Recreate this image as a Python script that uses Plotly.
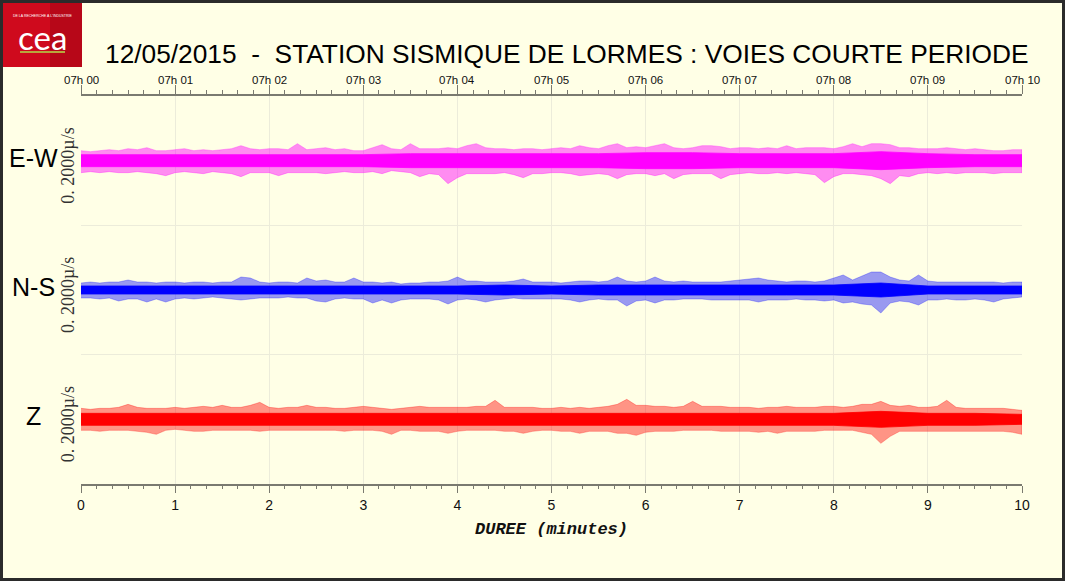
import numpy as np
import plotly.graph_objects as go

# ---------------- data ----------------
# envelope sampling grid, minutes after 07h00
minutes = [round(i * 0.1, 1) for i in range(101)]
core_minutes = [round(i * 0.5, 1) for i in range(21)]

channels = ["E-W", "N-S", "Z"]
colors = ["#ff00ff", "#0000ff", "#ff0000"]
light_colors = ["rgba(255,0,255,0.45)", "rgba(0,0,255,0.40)", "rgba(255,0,0,0.42)"]

# peak envelopes (display px above / below the trace baseline)
ew_upper = [10, 9, 10, 11, 10, 12, 11, 13, 10, 10,
            11, 12, 10, 11, 10, 11, 12, 15, 12, 11,
            12, 12, 11, 17, 11, 12, 13, 11, 12, 10,
            10, 13, 16, 12, 11, 17, 12, 12, 12, 13,
            12, 15, 17, 13, 12, 12, 11, 12, 12, 11,
            12, 13, 12, 15, 13, 12, 15, 17, 13, 14,
            13, 15, 17, 13, 12, 13, 15, 15, 14, 12,
            13, 13, 12, 13, 12, 15, 12, 13, 13, 13,
            12, 14, 17, 14, 17, 17, 16, 13, 13, 12,
            12, 12, 13, 12, 11, 12, 11, 10, 10, 11, 11]
ew_lower = [12, 11, 12, 11, 12, 12, 11, 12, 13, 15,
            12, 11, 12, 13, 11, 12, 13, 16, 12, 12,
            12, 15, 12, 12, 12, 12, 13, 12, 11, 12,
            12, 11, 13, 10, 11, 12, 16, 13, 14, 23,
            17, 13, 13, 13, 13, 12, 14, 17, 13, 13,
            12, 12, 13, 15, 14, 13, 14, 18, 14, 13,
            13, 15, 13, 18, 14, 13, 13, 13, 18, 14,
            13, 12, 13, 13, 12, 13, 12, 13, 14, 22,
            16, 13, 13, 14, 15, 18, 23, 15, 16, 13,
            12, 13, 12, 13, 12, 12, 12, 13, 12, 12, 12]
ns_upper = [7, 8, 7, 8, 8, 10, 8, 8, 7, 8,
            8, 7, 8, 8, 7, 8, 8, 13, 12, 8,
            7, 8, 8, 7, 12, 9, 10, 8, 8, 12,
            8, 8, 7, 8, 6, 7, 7, 8, 8, 9,
            13, 9, 9, 8, 8, 8, 9, 11, 8, 8,
            8, 7, 8, 9, 9, 8, 9, 13, 9, 8,
            9, 13, 9, 8, 9, 8, 8, 8, 8, 9,
            10, 11, 12, 10, 9, 8, 9, 9, 8, 9,
            12, 15, 10, 14, 18, 18, 13, 10, 9, 15,
            9, 8, 8, 8, 8, 8, 8, 8, 7, 8, 8]
ns_lower = [8, 8, 9, 8, 11, 9, 9, 12, 9, 12,
            9, 8, 9, 8, 7, 8, 9, 10, 9, 8,
            8, 8, 7, 8, 8, 11, 12, 9, 8, 9,
            9, 13, 10, 13, 10, 9, 9, 9, 10, 14,
            10, 9, 10, 12, 10, 9, 8, 9, 9, 9,
            9, 9, 10, 12, 10, 9, 10, 10, 16, 11,
            10, 13, 10, 10, 9, 9, 9, 10, 10, 10,
            10, 10, 12, 10, 10, 10, 9, 10, 10, 11,
            10, 13, 12, 14, 15, 23, 13, 11, 12, 15,
            10, 10, 9, 10, 10, 9, 10, 12, 9, 8, 7]
z_upper = [11, 10, 11, 11, 12, 15, 12, 11, 11, 11,
           12, 11, 12, 13, 12, 14, 12, 12, 14, 17,
           12, 11, 12, 12, 14, 12, 12, 11, 11, 12,
           13, 12, 11, 10, 11, 12, 13, 12, 12, 12,
           12, 12, 13, 13, 19, 12, 12, 12, 12, 11,
           11, 12, 11, 12, 11, 12, 13, 15, 20, 14,
           14, 13, 13, 12, 13, 18, 13, 13, 13, 12,
           12, 12, 11, 12, 12, 13, 12, 12, 12, 13,
           13, 12, 13, 15, 15, 18, 14, 13, 14, 12,
           12, 13, 19, 12, 11, 11, 11, 11, 11, 10, 9]
z_lower = [11, 11, 12, 11, 11, 11, 12, 13, 15, 11,
           10, 11, 12, 12, 11, 11, 11, 11, 11, 12,
           11, 11, 11, 11, 11, 11, 11, 11, 12, 11,
           11, 11, 12, 15, 11, 11, 12, 12, 12, 14,
           12, 11, 11, 11, 11, 12, 12, 14, 12, 11,
           11, 12, 12, 14, 12, 12, 12, 14, 14, 16,
           13, 12, 12, 12, 11, 11, 11, 11, 12, 12,
           12, 12, 13, 12, 14, 12, 12, 12, 12, 11,
           11, 11, 11, 13, 15, 24, 17, 12, 12, 12,
           12, 12, 12, 12, 12, 12, 12, 12, 12, 13, 15]

# dense core half-widths (display px), every 0.5 min
ew_core = [6, 6, 6, 6, 6, 6, 6, 7, 7, 7, 7, 7, 8, 8, 7, 7, 7, 9, 7, 6, 6]
ns_core = [4, 4, 4, 4, 4, 4, 4, 4, 4, 5, 4, 5, 5, 5, 5, 5, 5, 7, 4, 4, 4]
z_core = [6, 6, 6, 6, 6, 6, 6, 6, 6, 6, 6, 6, 6, 6, 6, 6, 6, 8, 6, 6, 5]

x_ticks = list(range(11))
top_tick_labels = ["07h %02d" % m for m in range(11)]
scale_label = "0. 2000µ/s"
title_text = "12/05/2015&nbsp;&nbsp;-&nbsp;&nbsp;STATION SISMIQUE DE LORMES : VOIES COURTE PERIODE"

# ---------------- layout geometry ----------------
W, H = 1065, 581
L, R, T, B = 81, 43, 96, 97
PW, PH = W - L - R, H - T - B
ROW_PX = PH / 3.0
AMP = 1.0 / ROW_PX              # px -> row units
offsets = [2.5, 1.5, 0.5]       # baselines of E-W, N-S, Z rows
BG = "#ffffe6"


def px_x(px):
    return (px - L) / PW


def px_y(py):
    return (H - B - py) / PH


uppers = [ew_upper, ns_upper, z_upper]
lowers = [ew_lower, ns_lower, z_lower]
cores = [ew_core, ns_core, z_core]

fig = go.Figure()
for k in range(3):
    base = offsets[k]
    up = [base + v * AMP for v in uppers[k]]
    lo = [base - v * AMP for v in lowers[k]]
    # light envelope of the peaks
    fig.add_trace(go.Scatter(x=minutes + minutes[::-1], y=up + lo[::-1],
                             fill="toself", fillcolor=light_colors[k],
                             line=dict(width=0.7, color=light_colors[k]),
                             mode="lines", hoverinfo="skip", showlegend=False))
    # dense core
    cu = [base + v * AMP for v in cores[k]]
    cl = [base - v * AMP for v in cores[k]]
    fig.add_trace(go.Scatter(x=core_minutes + core_minutes[::-1], y=cu + cl[::-1],
                             fill="toself", fillcolor=colors[k],
                             line=dict(width=0.8, color=colors[k]),
                             mode="lines", hoverinfo="skip", showlegend=False))

# invisible trace to carry the top time axis
fig.add_trace(go.Scatter(x=[0, 10], y=[0, 0], xaxis="x2", mode="lines",
                         line=dict(width=0), hoverinfo="skip", showlegend=False))

axis_col = "#7a7a70"
grid_col = "#ececda"

fig.update_layout(
    width=W, height=H,
    margin=dict(l=L, r=R, t=T, b=B),
    paper_bgcolor=BG, plot_bgcolor=BG,
    showlegend=False,
    xaxis=dict(range=[0, 10], tickvals=x_ticks, ticktext=[str(v) for v in x_ticks],
               showgrid=True, gridcolor=grid_col, gridwidth=1, zeroline=False,
               showline=True, linecolor=axis_col, linewidth=1.5,
               ticks="outside", ticklen=7, tickcolor=axis_col, tickwidth=1,
               minor=dict(dtick=1 / 6, ticklen=3, tickcolor=axis_col, ticks="outside", showgrid=False),
               tickfont=dict(family="Liberation Sans, Arial", size=14, color="#111"),
               title=dict(text="<b><i>DUREE (minutes)</i></b>",
                          font=dict(family="Liberation Mono, Courier New", size=17, color="#111"),
                          standoff=11)),
    xaxis2=dict(range=[0, 10], overlaying="x", side="top", anchor="y",
                tickvals=x_ticks, showticklabels=False,
                showgrid=False, zeroline=False,
                showline=True, linecolor=axis_col, linewidth=1.5,
                ticks="outside", ticklen=9, tickcolor=axis_col, tickwidth=1,
                minor=dict(dtick=1 / 6, ticklen=4, tickcolor=axis_col, ticks="outside", showgrid=False)),
    yaxis=dict(range=[0, 3], dtick=1, showticklabels=False, showgrid=True,
               gridcolor=grid_col, gridwidth=1, zeroline=False, showline=False, ticks=""),
)

ann = []
# top time labels, placed on the time scale
for v, lab in zip(x_ticks, top_tick_labels):
    ann.append(dict(x=v, xref="x", y=px_y(80.5), yref="paper", text=lab,
                    showarrow=False, xanchor="center", yanchor="middle",
                    font=dict(family="Liberation Sans, Arial", size=11.5, color="#111")))
ann.append(dict(x=px_x(566.5), y=px_y(54), xref="paper", yref="paper", text=title_text,
                showarrow=False, xanchor="center", yanchor="middle",
                font=dict(family="Liberation Sans, Arial", size=26.3, color="#000")))
label_y = [160.7, 290.0, 419.3]
for k in range(3):
    ann.append(dict(x=px_x(33), y=px_y(label_y[k] - 3), xref="paper", yref="paper",
                    text=channels[k], showarrow=False, xanchor="center", yanchor="middle",
                    font=dict(family="Liberation Sans, Arial", size=25, color="#000")))
    ann.append(dict(x=px_x(68), y=px_y(label_y[k] + 5), xref="paper", yref="paper",
                    text=scale_label, textangle=-90, showarrow=False,
                    xanchor="center", yanchor="middle",
                    font=dict(family="Liberation Serif, Times New Roman", size=18, color="#333")))
# logo texts
ann.append(dict(x=px_x(42), y=px_y(37), xref="paper", yref="paper", text="cea",
                showarrow=False, xanchor="center", yanchor="middle",
                font=dict(family="Lato, Noto Sans", size=33, color="#ffffff")))
ann.append(dict(x=px_x(42), y=px_y(16), xref="paper", yref="paper",
                text="DE LA RECHERCHE À L'INDUSTRIE",
                showarrow=False, xanchor="center", yanchor="middle",
                font=dict(family="Liberation Sans, Arial", size=3.5, color="#ffffff")))
fig.update_layout(annotations=ann)

shapes = []
# logo block
shapes.append(dict(type="rect", xref="paper", yref="paper",
                   x0=px_x(3), x1=px_x(82), y0=px_y(67), y1=px_y(3),
                   fillcolor="#cf0a1d", line=dict(width=0), layer="above"))
shapes.append(dict(type="rect", xref="paper", yref="paper",
                   x0=px_x(50), x1=px_x(82), y0=px_y(67), y1=px_y(3),
                   fillcolor="rgba(110,0,10,0.25)", line=dict(width=0), layer="above"))
shapes.append(dict(type="line", xref="paper", yref="paper",
                   x0=px_x(20), x1=px_x(65), y0=px_y(52), y1=px_y(52),
                   line=dict(color="#b8a83c", width=2), layer="above"))
# outer frame
shapes.append(dict(type="rect", xref="paper", yref="paper",
                   x0=px_x(1.5), x1=px_x(1063.5), y0=px_y(579.5), y1=px_y(1.5),
                   line=dict(color="#2b2b2b", width=3), fillcolor="rgba(0,0,0,0)", layer="above"))
fig.update_layout(shapes=shapes)

fig.write_html("out.html", config={"displayModeBar": False},
               post_script="document.body.style.margin='0';document.body.style.overflow='hidden';")
